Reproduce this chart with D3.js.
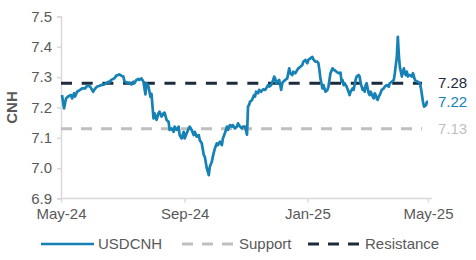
<!DOCTYPE html>
<html>
<head>
<meta charset="utf-8">
<script src="https://cdn.jsdelivr.net/npm/d3@7"></script>
<style>
  body { margin: 0; background: #fff; }
  svg text { font-family: "Liberation Sans", Arial, sans-serif; }
</style>
</head>
<body>
<svg id="chart"></svg>
<script>
const dates = [
  "2024-05-02","2024-05-04","2024-05-06","2024-05-08","2024-05-11","2024-05-12","2024-05-14","2024-05-15","2024-05-17","2024-05-20",
  "2024-05-22","2024-05-25","2024-05-27","2024-05-30","2024-05-31","2024-06-02","2024-06-04","2024-06-06","2024-06-08","2024-06-10",
  "2024-06-13","2024-06-15","2024-06-17","2024-06-18","2024-06-20","2024-06-23","2024-06-25","2024-06-27","2024-06-28","2024-06-30",
  "2024-07-02","2024-07-03","2024-07-05","2024-07-07","2024-07-08","2024-07-10","2024-07-12","2024-07-13","2024-07-15","2024-07-17",
  "2024-07-18","2024-07-20","2024-07-22","2024-07-23","2024-07-24","2024-07-25","2024-07-27","2024-07-28","2024-07-29","2024-07-30",
  "2024-08-01","2024-08-02","2024-08-04","2024-08-06","2024-08-07","2024-08-09","2024-08-11","2024-08-12","2024-08-14","2024-08-16",
  "2024-08-17","2024-08-19","2024-08-21","2024-08-22","2024-08-24","2024-08-26","2024-08-27","2024-08-29","2024-08-31","2024-09-01",
  "2024-09-03","2024-09-05","2024-09-06","2024-09-08","2024-09-10","2024-09-11","2024-09-13","2024-09-15","2024-09-16","2024-09-18",
  "2024-09-20","2024-09-21","2024-09-23","2024-09-25","2024-09-26","2024-09-28","2024-09-29","2024-10-01","2024-10-03","2024-10-04",
  "2024-10-06","2024-10-08","2024-10-09","2024-10-11","2024-10-13","2024-10-14","2024-10-16","2024-10-18","2024-10-19","2024-10-21",
  "2024-10-23","2024-10-24","2024-10-26","2024-10-28","2024-10-29","2024-10-31","2024-11-02","2024-11-03","2024-11-04","2024-11-05",
  "2024-11-07","2024-11-09","2024-11-10","2024-11-11","2024-11-13","2024-11-14","2024-11-16","2024-11-18","2024-11-20","2024-11-21",
  "2024-11-23","2024-11-24","2024-11-26","2024-11-28","2024-11-29","2024-11-30","2024-12-01","2024-12-02","2024-12-04","2024-12-05",
  "2024-12-06","2024-12-07","2024-12-08","2024-12-10","2024-12-12","2024-12-13","2024-12-14","2024-12-15","2024-12-17","2024-12-18",
  "2024-12-20","2024-12-22","2024-12-23","2024-12-25","2024-12-27","2024-12-28","2024-12-30","2025-01-01","2025-01-02","2025-01-04",
  "2025-01-06","2025-01-07","2025-01-09","2025-01-11","2025-01-12","2025-01-13","2025-01-14","2025-01-15","2025-01-16","2025-01-17",
  "2025-01-19","2025-01-21","2025-01-22","2025-01-24","2025-01-26","2025-01-27","2025-01-28","2025-01-30","2025-02-01","2025-02-03",
  "2025-02-04","2025-02-05","2025-02-06","2025-02-07","2025-02-09","2025-02-11","2025-02-12","2025-02-13","2025-02-15","2025-02-16",
  "2025-02-17","2025-02-18","2025-02-19","2025-02-21","2025-02-22","2025-02-23","2025-02-25","2025-02-26","2025-02-27","2025-02-28",
  "2025-03-01","2025-03-02","2025-03-03","2025-03-04","2025-03-05","2025-03-07","2025-03-08","2025-03-09","2025-03-10","2025-03-11",
  "2025-03-12","2025-03-13","2025-03-14","2025-03-16","2025-03-18","2025-03-19","2025-03-21","2025-03-23","2025-03-24","2025-03-26",
  "2025-03-28","2025-03-29","2025-03-31","2025-04-01","2025-04-02","2025-04-03","2025-04-04","2025-04-05","2025-04-06","2025-04-07",
  "2025-04-08","2025-04-09","2025-04-10","2025-04-11","2025-04-12","2025-04-13","2025-04-15","2025-04-16","2025-04-18","2025-04-20",
  "2025-04-21","2025-04-23","2025-04-24","2025-04-25","2025-04-26","2025-04-27","2025-04-29","2025-04-30","2025-05-01"
]
const usdcnh = [
  7.241,7.197,7.230,7.236,7.241,7.230,7.247,7.236,7.252,7.258,
  7.263,7.263,7.272,7.269,7.263,7.252,7.263,7.269,7.271,7.274,
  7.276,7.280,7.285,7.282,7.291,7.296,7.305,7.307,7.309,7.305,
  7.302,7.287,7.283,7.280,7.282,7.276,7.285,7.280,7.291,7.294,
  7.291,7.296,7.285,7.263,7.243,7.280,7.269,7.252,7.235,7.245,
  7.164,7.181,7.159,7.181,7.186,7.170,7.181,7.183,7.159,7.153,
  7.126,7.131,7.120,7.137,7.126,7.137,7.109,7.098,7.120,7.098,
  7.115,7.131,7.137,7.126,7.109,7.120,7.104,7.109,7.093,7.082,
  7.043,7.038,7.000,6.977,7.005,7.021,7.038,7.065,7.082,7.076,
  7.087,7.076,7.098,7.115,7.137,7.126,7.142,7.137,7.142,7.131,
  7.137,7.148,7.137,7.131,7.137,7.137,7.110,7.203,7.208,7.219,
  7.225,7.241,7.236,7.252,7.247,7.258,7.252,7.260,7.258,7.263,
  7.274,7.269,7.274,7.291,7.302,7.296,7.280,7.285,7.291,7.274,
  7.258,7.280,7.285,7.291,7.296,7.313,7.329,7.313,7.307,7.318,
  7.313,7.324,7.329,7.334,7.340,7.351,7.357,7.346,7.357,7.362,
  7.367,7.359,7.351,7.351,7.346,7.324,7.296,7.280,7.263,7.274,
  7.252,7.258,7.269,7.313,7.329,7.324,7.324,7.318,7.313,7.315,
  7.285,7.291,7.274,7.280,7.269,7.252,7.241,7.252,7.263,7.258,
  7.274,7.291,7.302,7.307,7.302,7.280,7.258,7.263,7.252,7.274,
  7.280,7.263,7.247,7.241,7.252,7.236,7.230,7.247,7.241,7.230,
  7.225,7.236,7.241,7.258,7.263,7.269,7.274,7.269,7.280,7.285,
  7.291,7.313,7.367,7.433,7.373,7.334,7.318,7.302,7.318,7.329,
  7.313,7.307,7.318,7.302,7.307,7.307,7.302,7.313,7.291,7.285,
  7.285,7.280,7.263,7.241,7.219,7.203,7.208,7.219,7.22
]
const support = 7.13
const resistance = 7.28
const yTicks = [6.9, 7.0, 7.1, 7.2, 7.3, 7.4, 7.5]
const xTicks = ["2024-05-01", "2024-09-01", "2025-01-01", "2025-05-01"]
const seriesNames = ["USDCNH", "Support", "Resistance"]

const width = 476
const height = 260
const margin = { top: 16.5, right: 48, bottom: 61.5, left: 61 }
const font = "'Liberation Sans', Arial, sans-serif"
const blue = "#1581b5"
const navy = "#1c2b3b"
const grey = "#bfbfbf"
const textGrey = "#595959"
const axisGrey = "#d9d9d9"

const parse = d3.timeParse("%Y-%m-%d")
const data = dates.map((d, i) => ({ date: parse(d), value: usdcnh[i] }))

let svg = d3.select("#chart")
  .attr("width", width)
  .attr("height", height)
  .attr("font-family", font)

let x = d3.scaleTime()
  .domain([parse(xTicks[0]), parse(xTicks[xTicks.length - 1])])
  .range([margin.left, width - margin.right])

let y = d3.scaleLinear()
  .domain([6.9, 7.5])
  .range([height - margin.bottom, margin.top])

// y axis
let yAxis = svg.append("g")
  .attr("transform", `translate(${margin.left},0)`)
  .call(d3.axisLeft(y).tickValues(yTicks).tickFormat(d3.format(".1f")).tickSize(4).tickPadding(5))
yAxis.select(".domain").attr("stroke", axisGrey).attr("stroke-width", 1.5)
yAxis.selectAll(".tick line").attr("stroke", axisGrey).attr("stroke-width", 1.5)
yAxis.selectAll("text").attr("fill", textGrey).attr("font-family", font).style("font-size", "15px")

// x axis
let xAxis = svg.append("g")
  .attr("transform", `translate(0,${height - margin.bottom})`)
  .call(d3.axisBottom(x)
    .tickValues(xTicks.map(parse))
    .tickFormat(d3.timeFormat("%b-%y"))
    .tickSizeInner(4).tickSizeOuter(0).tickPadding(6))
xAxis.select(".domain").attr("stroke", axisGrey).attr("stroke-width", 1.5)
  .attr("d", `M${margin.left},0H${width - margin.right + 4}`)
xAxis.selectAll(".tick line").attr("stroke", axisGrey).attr("stroke-width", 1.5)
xAxis.selectAll("text").attr("fill", textGrey).attr("font-family", font).style("font-size", "15px")

// axis title
svg.append("text")
  .attr("transform", `translate(17,${y(7.2)}) rotate(-90)`)
  .attr("text-anchor", "middle")
  .attr("fill", textGrey)
  .style("font-size", "15px")
  .style("font-weight", "bold")
  .text("CNH")

let lastDate = data[data.length - 1].date

// support & resistance
svg.append("line")
  .attr("x1", x(parse(xTicks[0]))).attr("x2", x(lastDate) - 6)
  .attr("y1", y(support)).attr("y2", y(support))
  .attr("stroke", grey).attr("stroke-width", 3)
  .attr("stroke-dasharray", "11,9")

svg.append("line")
  .attr("x1", x(parse(xTicks[0]))).attr("x2", x(lastDate) - 6)
  .attr("y1", y(resistance)).attr("y2", y(resistance))
  .attr("stroke", navy).attr("stroke-width", 3)
  .attr("stroke-dasharray", "11,9.7")

// price line
let line = d3.line()
  .x(d => x(d.date))
  .y(d => y(d.value))

svg.append("path")
  .datum(data)
  .attr("fill", "none")
  .attr("stroke", blue)
  .attr("stroke-width", 2.7)
  .attr("stroke-linejoin", "round")
  .attr("d", line)

// end labels
let endLabels = [
  { v: resistance, color: navy },
  { v: usdcnh[usdcnh.length - 1], color: blue },
  { v: support, color: grey }
]
svg.selectAll(".endlabel")
  .data(endLabels)
  .enter()
  .append("text")
  .attr("class", "endlabel")
  .attr("x", x(lastDate) + 10)
  .attr("y", d => y(d.v))
  .attr("dy", "0.35em")
  .attr("fill", d => d.color)
  .style("font-size", "15px")
  .text(d => d.v.toFixed(2))

// legend
let legend = [
  { name: seriesNames[0], color: blue, dash: null, x: 41 },
  { name: seriesNames[1], color: grey, dash: "11,9", x: 182 },
  { name: seriesNames[2], color: navy, dash: "11,9", x: 308 }
]
let lg = svg.selectAll(".legend")
  .data(legend)
  .enter()
  .append("g")
  .attr("class", "legend")
  .attr("transform", d => `translate(${d.x},244)`)
lg.append("line")
  .attr("x1", 0).attr("x2", 53)
  .attr("stroke", d => d.color)
  .attr("stroke-width", d => d.dash ? 3 : 2.7)
  .attr("stroke-dasharray", d => d.dash)
lg.append("text")
  .attr("x", 57)
  .attr("dy", "0.35em")
  .attr("fill", textGrey)
  .style("font-size", "15px")
  .text(d => d.name)
</script>
</body>
</html>
